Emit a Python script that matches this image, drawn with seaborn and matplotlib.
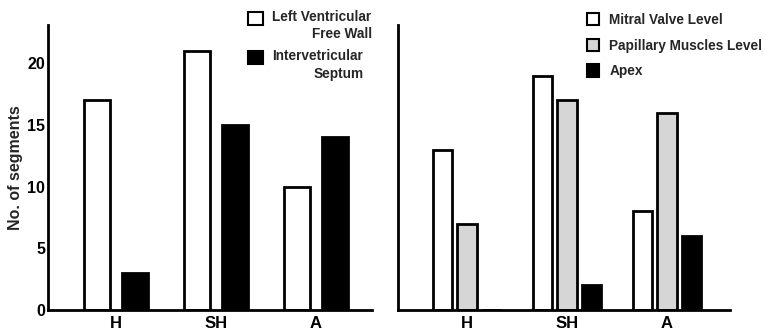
import pandas as pd
import matplotlib.pyplot as plt
import seaborn as sns
from matplotlib.patches import Patch, Rectangle
from matplotlib.legend_handler import HandlerPatch

# data
groups = ["H", "SH", "A"]

wall_labels = ["Left Ventricular\nFree Wall", "Intervetricular\nSeptum"]
free_wall = [17, 21, 10]
septum = [3, 15, 14]

level_labels = ["Mitral Valve Level", "Papillary Muscles Level", "Apex"]
mitral = [13, 19, 8]
papillary = [7, 17, 16]
apex = [0, 2, 6]

y_ticks = [0, 5, 10, 15, 20]

left_df = pd.DataFrame({
    "group": groups * 2,
    "region": [wall_labels[0]] * 3 + [wall_labels[1]] * 3,
    "n": free_wall + septum,
})
right_df = pd.DataFrame({
    "group": groups * 3,
    "level": [level_labels[0]] * 3 + [level_labels[1]] * 3 + [level_labels[2]] * 3,
    "n": mitral + papillary + apex,
})

sns.set_theme(style="white")
plt.rcParams["font.family"] = ["Liberation Sans", "DejaVu Sans"]

fig = plt.figure(figsize=(7.64, 3.31), dpi=100)
ax1 = fig.add_axes([48 / 764, 21 / 331, 324 / 764, 285 / 331])
ax2 = fig.add_axes([398 / 764, 21 / 331, 332 / 764, 285 / 331])

wall_colors = ["white", "black"]
level_colors = ["white", "#d6d6d6", "black"]

sns.barplot(data=left_df, x="group", y="n", hue="region", palette=wall_colors,
            width=0.75, gap=0.3, edgecolor="black", linewidth=2,
            legend=False, ax=ax1)
sns.barplot(data=right_df, x="group", y="n", hue="level", palette=level_colors,
            width=0.735, gap=0.2, edgecolor="black", linewidth=2,
            legend=False, ax=ax2)

ax1.set_xlim(-0.68, 2.56)
ax2.set_xlim(-0.69, 2.63)

for ax in (ax1, ax2):
    ax.set_ylim(0, 23.1)
    ax.set_yticks(y_ticks)
    sns.despine(ax=ax)
    for s in ("left", "bottom"):
        ax.spines[s].set_linewidth(2)
        ax.spines[s].set_color("black")
    ax.tick_params(axis="y", direction="in", length=4, width=2, pad=2,
                   labelsize=11.5, colors="black")
    ax.tick_params(axis="x", length=0, pad=4, labelsize=12, colors="black")
    ax.set_xlabel("")
    for t in ax.get_xticklabels() + ax.get_yticklabels():
        t.set_fontweight("bold")

ax1.set_ylabel("No. of segments", fontsize=11.5, fontweight="bold", labelpad=3)
ax2.set_ylabel("")
ax2.set_yticklabels([])


# squares sit next to the first line of the two-line labels
def raised_square(legend, orig_handle, xdescent, ydescent, width, height, fontsize):
    return Rectangle((-xdescent, -ydescent + 0.6 * fontsize), width, height)


h1 = [Patch(facecolor=c, edgecolor="black", linewidth=1.5) for c in wall_colors]
leg1 = fig.legend(handles=h1, labels=wall_labels, loc="upper left",
                  bbox_to_anchor=(248 / 764, 1 - 10 / 331), frameon=False,
                  fontsize=9.8, handlelength=1.1, handleheight=1.1,
                  handletextpad=0.7, labelspacing=0.6, borderpad=0,
                  borderaxespad=0,
                  handler_map={Patch: HandlerPatch(patch_func=raised_square)})
for t in leg1.get_texts():
    t.set_multialignment("right")
    t.set_fontweight("bold")
    t.set_linespacing(1.3)

h2 = [Patch(facecolor=c, edgecolor="black", linewidth=1.5) for c in level_colors]
leg2 = fig.legend(handles=h2, labels=level_labels, loc="upper left",
                  bbox_to_anchor=(587 / 764, 1 - 13 / 331), frameon=False,
                  fontsize=9.8, handlelength=0.85, handleheight=1.0,
                  handletextpad=0.8, labelspacing=0.85, borderpad=0,
                  borderaxespad=0)
for t in leg2.get_texts():
    t.set_fontweight("bold")

plt.savefig("out.png", dpi=100)
